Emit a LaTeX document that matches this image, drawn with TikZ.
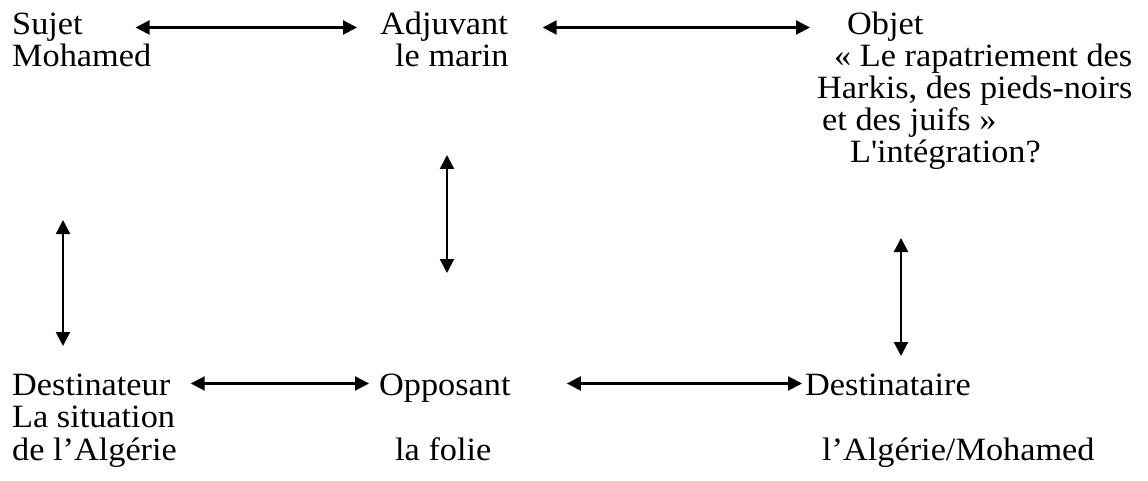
\documentclass[tikz,border=0pt]{standalone}
\usepackage{fontspec}
\setmainfont[FakeStretch=1.055]{Liberation Serif}
\usetikzlibrary{arrows.meta}
\begin{document}
\begin{tikzpicture}[x=1pt,y=-1pt,
  lbl/.style={anchor=base west,inner sep=0pt,text height=22pt,text depth=7pt,
              font=\fontsize{32.5}{33}\selectfont},
  arr/.style={{Triangle[length=14pt,width=14pt]}-{Triangle[length=14pt,width=14pt]},
              line width=2.2pt}]
\useasboundingbox (0,0) rectangle (1148,481);

% top row
\node[lbl] (sujet)   at (12,35)  {Sujet};
\node[lbl] (mohamed) at (12,67)  {Mohamed};
\node[lbl] (adj)     at (380,35) {Adjuvant};
\node[lbl] (marin)   at (395,67) {le marin};
\node[lbl] (objet)   at (847,35) {Objet};
\node[lbl] (obj1)    at (834,67) {« Le rapatriement des};
\node[lbl] (obj2)    at (817,99) {Harkis, des pieds-noirs};
\node[lbl] (obj3)    at (822,131) {et des juifs »};
\node[lbl] (obj4)    at (850,163) {L\textquotesingle intégration?};

% bottom row
\node[lbl] (dest)    at (12,395)   {Destinateur};
\node[lbl] (sit1)    at (12,427.5) {La situation};
\node[lbl] (sit2)    at (12,460)   {de l’Algérie};
\node[lbl] (opp)     at (379,395)  {Opposant};
\node[lbl] (folie)   at (395,460)  {la folie};
\node[lbl] (destre)  at (805,395)  {Destinataire};
\node[lbl] (alg)     at (822,460)  {l’Algérie/Mohamed};

% horizontal double arrows
\draw[arr,shorten <=52.7pt,shorten >=23pt] (sujet.east) -- (adj.west);
\draw[arr,shorten <=34.7pt,shorten >=37pt] (adj.east) -- (objet.west);
\draw[arr,shorten <=20.3pt,shorten >=10pt] ([yshift=4pt]dest.east) -- ([yshift=4pt]opp.west);
\draw[arr,shorten <=56pt,shorten >=3pt] ([yshift=4pt]opp.east) -- ([yshift=4pt]destre.west);

% vertical double arrows
\coordinate (lt) at (63,220);  \coordinate (lb) at (63,346);
\coordinate (mt) at (447,155); \coordinate (mb) at (447,273);
\coordinate (rt) at (901,238); \coordinate (rb) at (901,356);
\draw[arr] (lt) -- (lb);
\draw[arr] (mt) -- (mb);
\draw[arr] (rt) -- (rb);
\end{tikzpicture}
\end{document}
